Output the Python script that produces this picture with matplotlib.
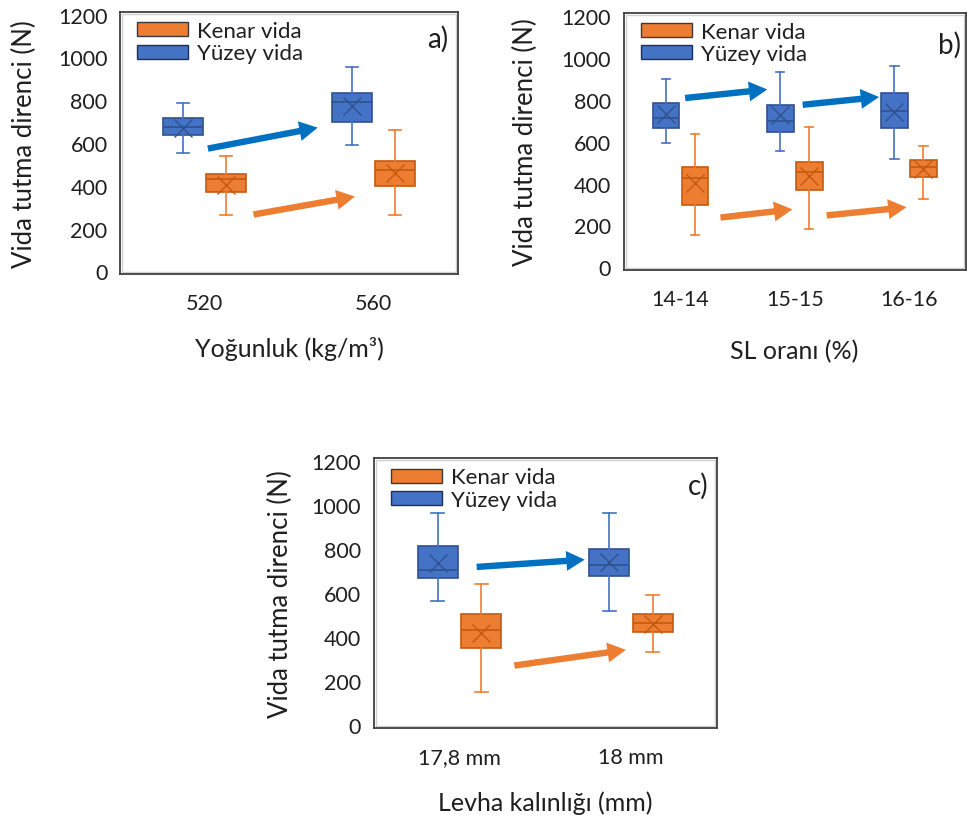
"""Screw withdrawal resistance box plots (Kenar vida / Yüzey vida), three panels."""

import matplotlib.pyplot as plt
import matplotlib.patches as mpatches

plt.rcParams["font.family"] = ["Lato", "DejaVu Sans"]

BLUE = "#4472C4"
BLUE_EDGE = "#2F528F"
ORANGE = "#ED7D31"
ORANGE_EDGE = "#C55A11"
ARROW_BLUE = "#0070C0"
ARROW_ORANGE = "#ED7D31"
TEXT = "#1F1F1F"

# each group: (min, q1, median, q3, max, mean)
a_labels = ["520", "560"]
a_kenar = [(266, 370, 430, 457, 538, 406), (266, 401, 472, 517, 660, 461)]
a_yuzey = [(554, 636, 677, 717, 787, 672), (593, 697, 790, 834, 955, 775)]
a_arrows_blue = [((0.02, 574), (0.67, 672))]
a_arrows_orange = [((0.29, 266), (0.89, 350))]

b_labels = ["14-14", "15-15", "16-16"]
b_kenar = [(153, 298, 424, 480, 635, 402), (182, 368, 456, 502, 667, 437),
           (324, 429, 480, 512, 580, 469)]
b_yuzey = [(595, 665, 713, 783, 900, 732), (557, 647, 699, 775, 931, 724),
           (517, 664, 745, 829, 962, 742)]
b_arrows_blue = [((0.04, 807), (0.76, 848)), ((1.07, 775), (1.74, 812))]
b_arrows_orange = [((0.35, 238), (0.98, 277)), ((1.28, 248), (1.98, 287))]

c_labels = ["17,8 mm", "18 mm"]
c_kenar = [(153, 351, 433, 506, 641, 420), (333, 424, 464, 506, 591, 460)]
c_yuzey = [(562, 668, 706, 814, 962, 736), (518, 676, 727, 800, 962, 741)]
c_arrows_blue = [((0.10, 718), (0.73, 751))]
c_arrows_orange = [((0.32, 271), (0.97, 342))]

OFFSET = 0.127
BOX_W = 0.235


def stats(groups):
    out = []
    for lo, q1, med, q3, hi, mean in groups:
        out.append(dict(whislo=lo, q1=q1, med=med, q3=q3, whishi=hi, mean=mean, fliers=[]))
    return out


def draw_boxes(ax, groups, positions, face, edge):
    ax.bxp(
        stats(groups),
        positions=positions,
        widths=BOX_W,
        capwidths=0.075,
        patch_artist=True,
        showmeans=True,
        manage_ticks=False,
        boxprops=dict(facecolor=face, edgecolor=edge, linewidth=1.2),
        medianprops=dict(color=edge, linewidth=1.2),
        whiskerprops=dict(color=face, linewidth=1.2),
        capprops=dict(color=face, linewidth=1.2),
        meanprops=dict(marker="x", markeredgecolor=edge, markersize=13, markeredgewidth=1.0),
    )


def draw_panel(ax, labels, kenar, yuzey, arrows_b, arrows_o, xlabel, tag,
               ylab_x, xlab_y, tag_xy, leg_anchor):
    n = len(labels)
    draw_boxes(ax, yuzey, [i - OFFSET for i in range(n)], BLUE, BLUE_EDGE)
    draw_boxes(ax, kenar, [i + OFFSET for i in range(n)], ORANGE, ORANGE_EDGE)

    for arrows, col in ((arrows_b, ARROW_BLUE), (arrows_o, ARROW_ORANGE)):
        for start, end in arrows:
            ax.annotate(
                "", xy=end, xytext=start,
                arrowprops=dict(arrowstyle="simple,head_width=1.3,head_length=1.2,tail_width=0.42",
                                mutation_scale=11, color=col, lw=0, shrinkA=0, shrinkB=0),
            )

    ax.set_xlim(-0.5, n - 0.5)
    ax.set_ylim(-12, 1212)
    ax.set_yticks(range(0, 1201, 200))
    ax.set_xticks(range(n))
    ax.set_xticklabels(labels)
    ax.tick_params(axis="both", length=0, labelsize=15.5, colors=TEXT)
    ax.tick_params(axis="y", pad=9)
    ax.tick_params(axis="x", pad=14)
    for sp in ax.spines.values():
        sp.set_color("#404040")
        sp.set_linewidth(1.3)
    # light inner border like the Excel plot area
    ax.add_patch(mpatches.Rectangle((0.006, 0.008), 0.988, 0.984, transform=ax.transAxes,
                                    fill=False, edgecolor="#D0D0D0", linewidth=1.0))

    ax.set_ylabel("Vida tutma direnci (N)", fontsize=18.5, color=TEXT)
    ax.yaxis.set_label_coords(ylab_x, 0.5)
    ax.set_xlabel(xlabel, fontsize=18, color=TEXT)
    ax.xaxis.set_label_coords(0.5, xlab_y)

    ax.text(tag_xy[0], tag_xy[1], tag, transform=ax.transAxes, ha="right", va="top",
            fontsize=20, color=TEXT)

    handles = [
        mpatches.Patch(facecolor=ORANGE, edgecolor="#3A3A3A", linewidth=1.0, label="Kenar vida"),
        mpatches.Patch(facecolor=BLUE, edgecolor="#1F2F55", linewidth=1.0, label="Yüzey vida"),
    ]
    ax.legend(handles=handles, loc="upper left", bbox_to_anchor=leg_anchor, frameon=False,
              fontsize=16, handlelength=2.3, handleheight=0.6, handletextpad=0.4,
              labelspacing=0.1, borderpad=0, borderaxespad=0, labelcolor=TEXT)


fig = plt.figure(figsize=(9.67, 8.2), dpi=100)
fig.patch.set_facecolor("white")

ax_a = fig.add_axes([0.1241, 0.6646, 0.3495, 0.3195])
ax_b = fig.add_axes([0.6448, 0.6695, 0.3540, 0.3134])
ax_c = fig.add_axes([0.3865, 0.1110, 0.3547, 0.3293])

draw_panel(ax_a, a_labels, a_kenar, a_yuzey, a_arrows_blue, a_arrows_orange,
           "Yoğunluk (kg/m³)", "a)", -0.246, -0.237, (0.97, 0.95), (0.05, 0.965))
draw_panel(ax_b, b_labels, b_kenar, b_yuzey, b_arrows_blue, b_arrows_orange,
           "SL oranı (%)", "b)", -0.249, -0.269, (0.985, 0.93), (0.05, 0.965))
draw_panel(ax_c, c_labels, c_kenar, c_yuzey, c_arrows_blue, c_arrows_orange,
           "Levha kalınlığı (mm)", "c)", -0.235, -0.233, (0.975, 0.95), (0.05, 0.965))

fig.savefig("out.png", dpi=100, facecolor="white")
